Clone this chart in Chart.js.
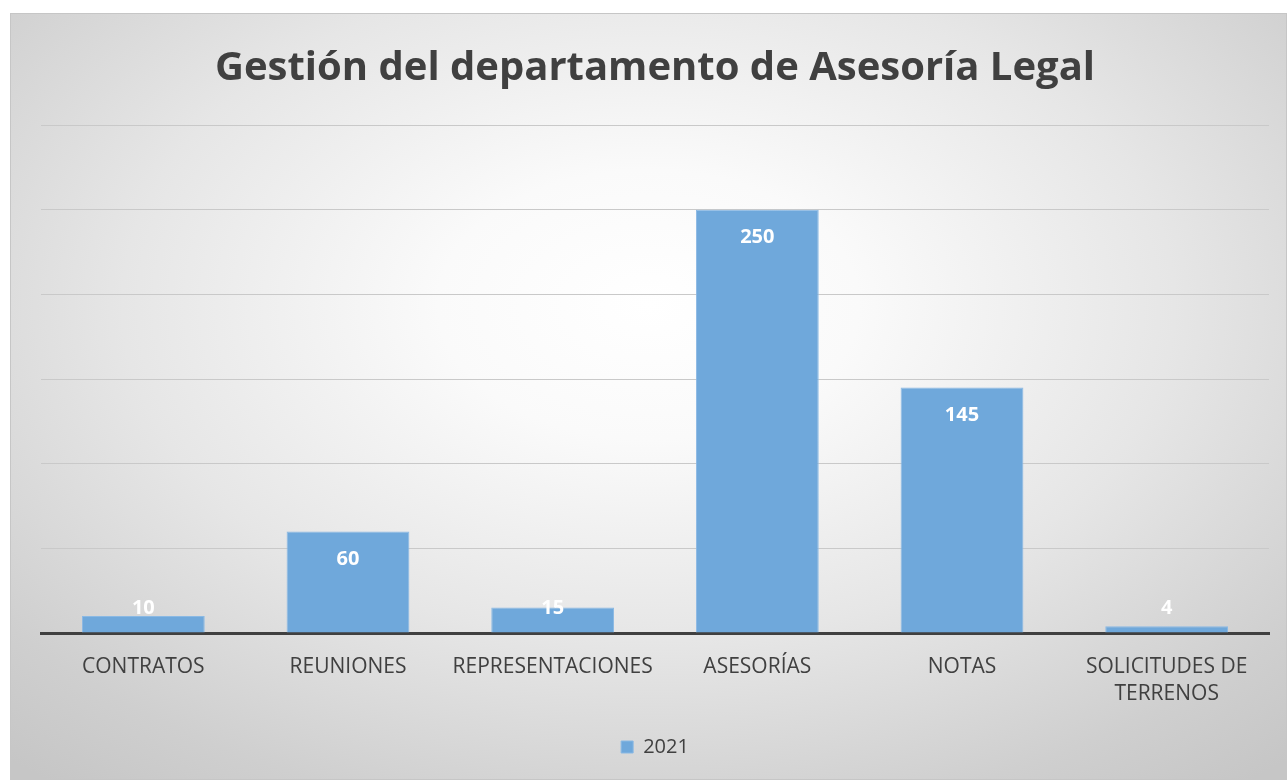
<!DOCTYPE html>
<html>
<head>
<meta charset="utf-8">
<script src="https://cdn.jsdelivr.net/npm/chart.js@4"></script>
<style>
  html, body { margin: 0; padding: 0; background: #ffffff; }
  #frame {
    position: absolute; left: 10px; top: 13px; width: 1277px; height: 767px;
    box-sizing: border-box; border: 1px solid #c6c6c6;
    background: radial-gradient(ellipse 75% 80% at 50% 38%, #ffffff 0%, #fafafa 22%, #e6e6e6 55%, #cfcfcf 85%, #c6c6c6 100%);
  }
  #myChart { display: block; }
</style>
</head>
<body>
<div id="frame"><canvas id="myChart" width="1275" height="765"></canvas></div>
<script>
const categories = ['CONTRATOS', 'REUNIONES', 'REPRESENTACIONES', 'ASESORÍAS', 'NOTAS', ['SOLICITUDES DE', 'TERRENOS']];
const values2021 = [10, 60, 15, 250, 145, 4];
const seriesName = '2021';
const chartTitle = 'Gestión del departamento de Asesoría Legal';

// white value labels at the inside end of each bar
const barLabels = {
    id: 'barLabels',
    afterDatasetsDraw(chart) {
        const ctx = chart.ctx;
        const meta = chart.getDatasetMeta(0);
        ctx.save();
        ctx.fillStyle = '#ffffff';
        ctx.font = 'bold 20px "Open Sans", sans-serif';
        ctx.textAlign = 'center';
        ctx.textBaseline = 'middle';
        meta.data.forEach((bar, i) => {
            const y = Math.min(bar.y + 28, bar.base - 24);
            ctx.fillText(values2021[i], bar.x, y);
        });
        ctx.restore();
    }
};

const renderChart = () => {
    var ctx = document.getElementById('myChart').getContext('2d');
    var myChart = new Chart(ctx, {
        type: 'bar',
        data: {
            labels: categories,
            datasets: [{
                label: seriesName,
                data: values2021,
                backgroundColor: '#6fa8db',
                borderColor: '#8ab9e4',
                borderWidth: 1,
                barPercentage: 0.6,
                categoryPercentage: 1
            }]
        },
        options: {
            responsive: false,
            animation: false,
            layout: { padding: { left: 30, right: 17, top: 0, bottom: 12 } },
            plugins: {
                title: {
                    display: true,
                    text: chartTitle,
                    color: '#404040',
                    font: { family: '"Open Sans", sans-serif', size: 40, weight: 'bold' },
                    padding: { top: 31, bottom: 32 }
                },
                legend: {
                    position: 'bottom',
                    labels: {
                        color: '#404040',
                        font: { family: '"Open Sans", sans-serif', size: 20 },
                        boxWidth: 12,
                        boxHeight: 12,
                        padding: 14
                    }
                },
                tooltip: { enabled: false }
            },
            scales: {
                x: {
                    afterFit: (scale) => { scale.height = 90; },
                    grid: { display: false },
                    border: { color: '#404040', width: 3 },
                    ticks: {
                        color: '#404040',
                        font: { family: '"Open Sans", sans-serif', size: 21, lineHeight: 1.3 },
                        padding: 12,
                        maxRotation: 0,
                        autoSkip: false
                    }
                },
                y: {
                    min: 0,
                    max: 300,
                    afterFit: (scale) => { scale.width = 0; },
                    ticks: { display: false, stepSize: 50 },
                    grid: { color: '#c9c9c9', drawTicks: false },
                    border: { display: false }
                }
            }
        },
        plugins: [barLabels]
    });
};
renderChart();
</script>
</body>
</html>
